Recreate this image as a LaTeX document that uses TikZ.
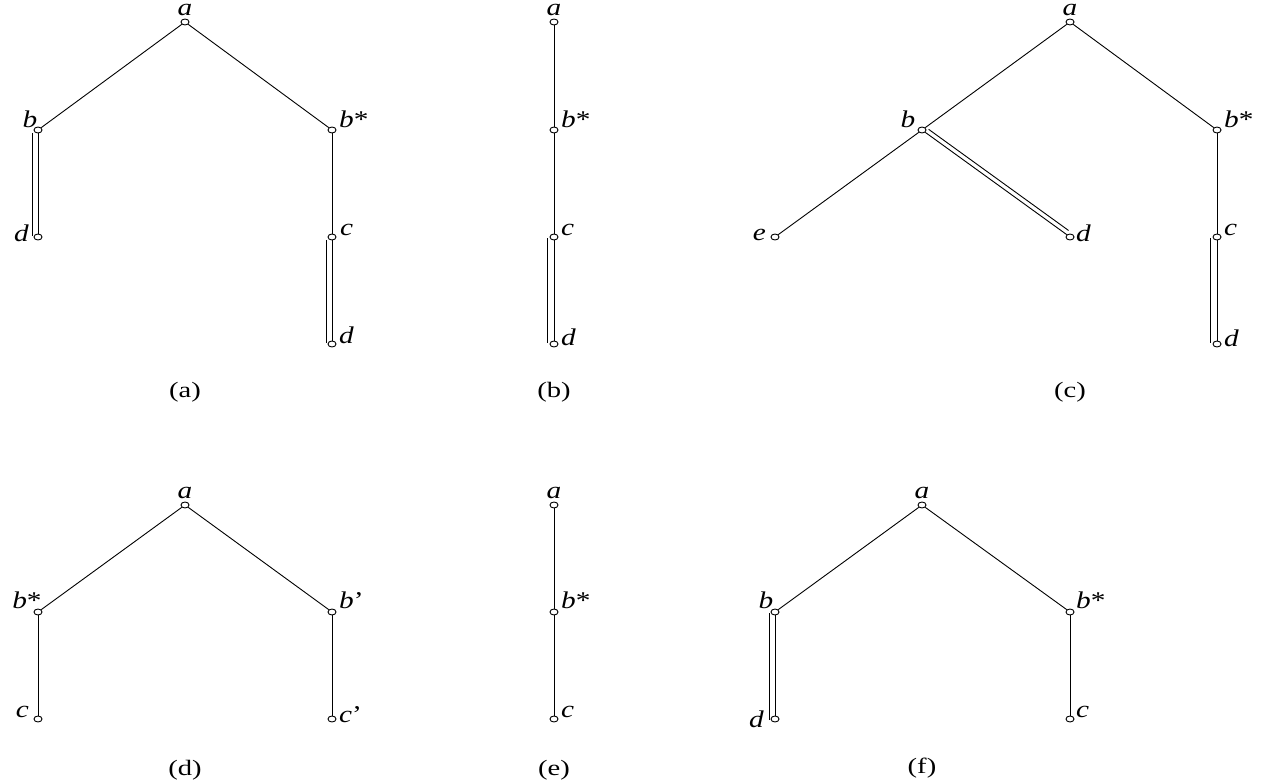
\documentclass[tikz,border=0pt]{standalone}
\usepackage{fontspec}
\usepackage{graphicx}
\setmainfont{Liberation Serif}
\usetikzlibrary{shapes.geometric,calc}
\newcommand{\lbl}[1]{\scalebox{1.22}[1]{\itshape #1}}
\newcommand{\capt}[1]{\scalebox{1.3}[1]{#1}}
\newcommand{\str}{\textup{*}}
\tikzset{
  dot/.style={ellipse,draw,fill=white,line width=0.9pt,minimum width=8pt,minimum height=6pt,inner sep=0pt},
  lab/.style={font=\fontsize{24}{26}\selectfont,inner sep=0pt},
  captext/.style={font=\fontsize{22}{24}\selectfont,inner sep=0pt,anchor=base},
  conn/.style={line width=0.9pt},
}
\begin{document}
\begin{tikzpicture}[x=1pt,y=-1pt]
\useasboundingbox (0,0) rectangle (1266,781);
% ---------- (a)
\node[dot] (aA) at (185,22) {};
\node[dot] (aB) at (38,130) {};
\node[dot] (aBs) at (332,130) {};
\node[dot] (aD1) at (38,237) {};
\node[dot] (aC) at (332,237) {};
\node[dot] (aD2) at (332,344) {};
\draw[conn] (aA) -- (aB);
\draw[conn] (aA) -- (aBs);
\draw[conn] (aB) -- (aD1);
\draw[conn] ([xshift=-6pt]aB.south) -- ([xshift=-6pt,yshift=-2pt]aD1.north);
\draw[conn] (aBs) -- (aC);
\draw[conn] (aC) -- (aD2);
\draw[conn] ([xshift=-6pt]aC.south) -- ([xshift=-6pt,yshift=-2pt]aD2.north);
\node[lab,anchor=base] (laA) at (185,16) {\lbl{a}};
\node[lab,anchor=base] (laB) at (30,128) {\lbl{b}};
\node[lab,anchor=base west] (laBs) at (339,128) {\lbl{b\str}};
\node[lab,anchor=base east] (laD1) at (29,241) {\lbl{d}};
\node[lab,anchor=base west] (laC) at (340,235) {\lbl{c}};
\node[lab,anchor=base west] (laD2) at (339,343) {\lbl{d}};
\node[captext] (capa) at (185,397) {\capt{(a)}};
% ---------- (b)
\node[dot] (bA) at (554,22) {};
\node[dot] (bBs) at (554,130) {};
\node[dot] (bC) at (554,237) {};
\node[dot] (bD) at (554,344) {};
\draw[conn] (bA) -- (bBs);
\draw[conn] (bBs) -- (bC);
\draw[conn] (bC) -- (bD);
\draw[conn] ([xshift=-7pt,yshift=2pt]bC.south) -- ([xshift=-7pt,yshift=-2pt]bD.north);
\node[lab,anchor=base] (lbA) at (554,16) {\lbl{a}};
\node[lab,anchor=base west] (lbBs) at (561,128) {\lbl{b\str}};
\node[lab,anchor=base west] (lbC) at (561,235) {\lbl{c}};
\node[lab,anchor=base west] (lbD) at (561,345) {\lbl{d}};
\node[captext] (capb) at (554,397) {\capt{(b)}};
% ---------- (c)
\node[dot] (cA) at (1070,22) {};
\node[dot] (cB) at (922,130) {};
\node[dot] (cBs) at (1217,130) {};
\node[dot] (cE) at (775,237) {};
\node[dot] (cD1) at (1070,237) {};
\node[dot] (cC) at (1217,237) {};
\node[dot] (cD2) at (1217,344) {};
\draw[conn] (cA) -- (cB);
\draw[conn] (cA) -- (cBs);
\draw[conn] (cB) -- (cE);
\draw[conn] (cB) -- (cD1);
\draw[conn] ($(cB)!5pt!(cD1)+(2.6pt,3.6pt)$) -- ($(cD1)!5pt!(cB)+(2.6pt,3.6pt)$);
\draw[conn] (cBs) -- (cC);
\draw[conn] (cC) -- (cD2);
\draw[conn] ([xshift=-7pt,yshift=2pt]cC.south) -- ([xshift=-7pt,yshift=-2pt]cD2.north);
\node[lab,anchor=base] (lcA) at (1070,16) {\lbl{a}};
\node[lab,anchor=base] (lcB) at (908,128) {\lbl{b}};
\node[lab,anchor=base west] (lcBs) at (1224,128) {\lbl{b\str}};
\node[lab,anchor=base east] (lcE) at (766,240) {\lbl{e}};
\node[lab,anchor=base west] (lcD1) at (1076,241) {\lbl{d}};
\node[lab,anchor=base west] (lcC) at (1224,235) {\lbl{c}};
\node[lab,anchor=base west] (lcD2) at (1224,346) {\lbl{d}};
\node[captext] (capc) at (1070,397) {\capt{(c)}};
% ---------- (d)
\node[dot] (dA) at (185,505) {};
\node[dot] (dBs) at (38,612) {};
\node[dot] (dBp) at (332,612) {};
\node[dot] (dC) at (38,719) {};
\node[dot] (dCp) at (332,719) {};
\draw[conn] (dA) -- (dBs);
\draw[conn] (dA) -- (dBp);
\draw[conn] (dBs) -- (dC);
\draw[conn] (dBp) -- (dCp);
\node[lab,anchor=base] (ldA) at (185,498) {\lbl{a}};
\node[lab,anchor=base] (ldBs) at (27,608) {\lbl{b\str}};
\node[lab,anchor=base west] (ldBp) at (339,608) {\lbl{b\textup{’}}};
\node[lab,anchor=base east] (ldC) at (29,717) {\lbl{c}};
\node[lab,anchor=base west] (ldCp) at (339,722) {\lbl{c\textup{’}}};
\node[captext] (capd) at (185,775) {\capt{(d)}};
% ---------- (e)
\node[dot] (eA) at (554,505) {};
\node[dot] (eBs) at (554,612) {};
\node[dot] (eC) at (554,719) {};
\draw[conn] (eA) -- (eBs);
\draw[conn] (eBs) -- (eC);
\node[lab,anchor=base] (leA) at (554,498) {\lbl{a}};
\node[lab,anchor=base west] (leBs) at (561,608) {\lbl{b\str}};
\node[lab,anchor=base west] (leC) at (561,717) {\lbl{c}};
\node[captext] (cape) at (554,775) {\capt{(e)}};
% ---------- (f)
\node[dot] (fA) at (922,505) {};
\node[dot] (fB) at (775,612) {};
\node[dot] (fBs) at (1070,612) {};
\node[dot] (fD) at (775,719) {};
\node[dot] (fC) at (1070,719) {};
\draw[conn] (fA) -- (fB);
\draw[conn] (fA) -- (fBs);
\draw[conn] (fB) -- (fD);
\draw[conn] ([xshift=-6pt,yshift=2pt]fB.south) -- ([xshift=-6pt,yshift=-4pt]fD.north);
\draw[conn] (fBs) -- (fC);
\node[lab,anchor=base] (lfA) at (922,498) {\lbl{a}};
\node[lab,anchor=base] (lfB) at (766,608) {\lbl{b}};
\node[lab,anchor=base west] (lfBs) at (1076,608) {\lbl{b\str}};
\node[lab,anchor=base east] (lfD) at (764,727) {\lbl{d}};
\node[lab,anchor=base west] (lfC) at (1076,717) {\lbl{c}};
\node[captext] (capf) at (922,773) {\capt{(f)}};
\end{tikzpicture}
\end{document}
